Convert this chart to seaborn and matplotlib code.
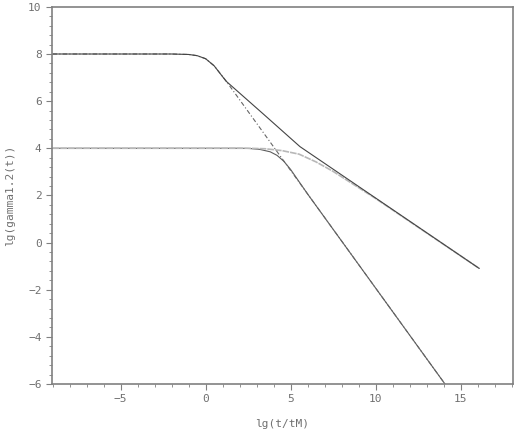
import matplotlib
matplotlib.use('Agg')
import matplotlib.pyplot as plt
import pandas as pd
import seaborn as sns
import numpy as np
from matplotlib.ticker import MultipleLocator

# curves: lg(gamma1.2(t)) against lg(t/tM)
x_solid = [-9.0, -2.0, -1.0, -0.5, 0.0, 0.5, 1.2, 3.4, 5.55, 16.1]
y_solid = [8.0, 8.0, 7.98, 7.93, 7.8, 7.5, 6.85, 5.45, 4.07, -1.1]

x_dashdot = [-9.0, -2.0, -1.0, -0.5, 0.0, 0.5, 1.2, 5.0, 14.08]
y_dashdot = [8.0, 8.0, 7.98, 7.93, 7.8, 7.5, 6.86, 3.06, -6.0]

x_steep = [-9.0, 2.0, 2.6, 3.2, 3.8, 4.2, 4.6, 5.0, 6.0, 14.08]
y_steep = [4.0, 4.0, 3.99, 3.95, 3.85, 3.7, 3.45, 3.1, 2.06, -6.0]

x_gentle = [-9.0, 2.5, 3.5, 4.5, 5.5, 6.5, 7.5, 8.5, 10.0, 16.1]
y_gentle = [4.0, 4.0, 3.98, 3.9, 3.75, 3.42, 3.02, 2.56, 1.87, -1.1]

sns.set_style('white')
plt.rcParams['font.family'] = ['DejaVu Sans Mono']

fig = plt.figure(figsize=(5.25, 4.29), dpi=100)
ax = fig.add_axes([0.099, 0.105, 0.878, 0.879])

def curve(x, y):
    return pd.DataFrame({'x': x, 'y': y})

sns.lineplot(data=curve(x_steep, y_steep), x='x', y='y', ax=ax, sort=False,
             estimator=None, color='#5c5c5c', lw=0.8)
sns.lineplot(data=curve(x_gentle, y_gentle), x='x', y='y', ax=ax, sort=False,
             estimator=None, color='#b8b8b8', lw=1.2)
ax.lines[-1].set_dashes([4, 0.6])
sns.lineplot(data=curve(x_dashdot, y_dashdot), x='x', y='y', ax=ax, sort=False,
             estimator=None, color='#666666', lw=0.8)
ax.lines[-1].set_dashes([4, 2, 1, 2])
sns.lineplot(data=curve(x_solid, y_solid), x='x', y='y', ax=ax, sort=False,
             estimator=None, color='#444444', lw=0.8)

ax.set_xlim(-9.04, 18.08)
ax.set_ylim(-6, 10)
ax.xaxis.set_major_locator(MultipleLocator(5))
ax.xaxis.set_minor_locator(MultipleLocator(1))
ax.yaxis.set_major_locator(MultipleLocator(2))
ax.yaxis.set_minor_locator(MultipleLocator(0.4))

for s in ax.spines.values():
    s.set_color('#808080')
    s.set_linewidth(1.2)
ax.tick_params(which='both', direction='out', color='#808080', labelcolor='#707070',
               labelsize=8, left=True, bottom=True)
ax.tick_params(which='major', length=4)
ax.tick_params(which='minor', length=2.5)

ax.set_xlabel('lg(t/tM)', color='#707070', fontsize=8)
ax.set_ylabel('lg(gamma1.2(t))', color='#707070', fontsize=8)
ax.xaxis.set_label_coords(0.5, -0.093)
ax.yaxis.set_label_coords(-0.08, 0.5)

fig.savefig('out.png', dpi=100)
